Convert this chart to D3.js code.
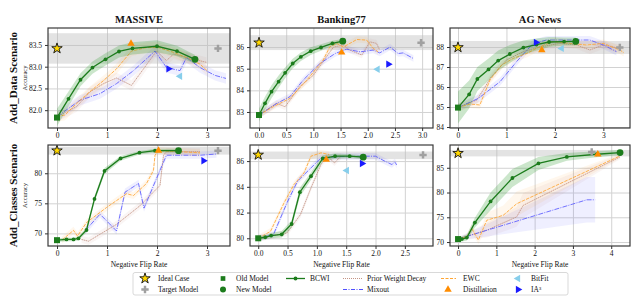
<!DOCTYPE html>
<html><head><meta charset="utf-8">
<script src="https://cdn.jsdelivr.net/npm/d3@7"></script>
<style>
body{margin:0;background:#fff}
svg{display:block}
text{font-family:"Liberation Serif","Times New Roman",serif;fill:#111}
</style>
</head><body><svg id="c" width="640" height="296"></svg>
<script>
// ---------------- DATA ----------------
const datasets = ["MASSIVE", "Banking77", "AG News"];
const scenarios = ["Add_Data Scenario", "Add_Classes Scenario"];
// panel order: MASSIVE-data, Banking-data, AG-data, MASSIVE-classes, Banking-classes, AG-classes

const bcwiMD = [[0,81.83],[0.23,82.26],[0.47,82.70],[0.71,82.98],[0.97,83.17],[1.24,83.35],[1.51,83.42],[2.0,83.47],[2.4,83.36],[2.76,83.17]];
const bandMD = [0.2,0.17,0.15,0.14,0.14,0.14,0.14,0.14,0.12,0.1];
const ewcMD = [[0,81.85],[0.16,81.89],[0.39,82.15],[0.65,82.42],[0.93,82.68],[1.19,82.95],[1.49,83.36],[1.79,83.44],[2.03,83.44],[2.33,83.33],[2.59,83.21],[2.86,83.06],[3.0,82.91]];
const pwdMD = [[0,81.85],[0.39,82.08],[0.66,82.42],[0.93,82.61],[1.19,82.74],[1.49,82.57],[1.99,83.36],[2.19,83.14],[2.33,83.29],[2.59,83.21],[2.99,83.10]];
const mixMD = [[0,81.85],[0.46,82.23],[0.86,82.38],[1.19,82.61],[1.53,82.91],[1.96,83.36],[2.19,82.98],[2.46,82.91],[2.59,83.21],[2.86,82.98],[3.16,82.80],[3.38,82.73]];

const bcwiBD = [[0,82.86],[0.11,83.4],[0.23,83.94],[0.36,84.4],[0.48,84.81],[0.62,85.24],[0.77,85.55],[0.95,85.81],[1.14,85.98],[1.35,86.17],[1.54,86.27]];
const bandBD = [0.3,0.3,0.3,0.28,0.25,0.22,0.2,0.18,0.15,0.12,0.1];
const ewcBD = [[0,82.86],[0.26,83.24],[0.57,83.63],[0.88,84.47],[1.18,85.4],[1.3,86.0],[1.43,86.17],[1.55,86.0],[1.8,86.35],[1.98,86.32],[2.1,85.94],[2.19,85.78]];
const pwdBD = [[0,82.86],[0.32,83.4],[0.48,83.24],[0.75,84.17],[1.0,84.7],[1.24,85.55],[1.37,86.0],[1.55,86.09],[1.67,85.86],[1.89,85.63],[2.04,86.24],[2.16,86.17],[2.22,85.86]];
const mixBD = [[0,82.86],[0.33,83.4],[0.57,83.71],[0.81,84.47],[1.12,85.24],[1.4,85.7],[1.61,85.9],[1.86,85.78],[2.1,85.86],[2.22,85.73],[2.41,86.0],[2.56,85.7],[2.65,85.73],[2.84,85.47]];

const bcwiAD = [[0,84.97],[0.23,85.63],[0.4,86.4],[0.63,86.88],[0.83,87.32],[1.07,87.65],[1.35,87.97],[1.62,88.12],[1.88,88.25],[2.19,88.27],[2.43,88.28]];
const bandAD = [0.8,0.7,0.6,0.55,0.5,0.45,0.35,0.3,0.25,0.2,0.2];
const ewcAD = [[0,84.97],[0.25,85.15],[0.45,85.1],[0.66,86.35],[0.9,87.1],[1.14,87.43],[1.42,87.68],[1.69,88.02],[1.96,88.27],[2.31,88.18],[2.65,88.1],[3.0,88.18],[3.34,87.85],[3.42,87.72]];
const pwdAD = [[0,84.97],[0.39,85.35],[0.69,86.52],[1.0,87.35],[1.35,87.77],[1.69,88.0],[2.1,88.18],[2.45,88.1],[2.72,87.85],[3.0,88.1],[3.34,87.93]];
const mixAD = [[0,84.97],[0.42,85.43],[0.87,86.27],[1.21,87.27],[1.55,88.18],[1.83,88.35],[2.24,88.35],[2.72,88.35],[3.0,88.1],[3.27,87.77]];

const bcwiMC = [[0,68.87],[0.19,68.99],[0.33,68.99],[0.43,69.16],[0.59,70.56],[0.75,75.73],[0.95,80.39],[1.27,82.47],[1.65,83.42],[1.96,83.76],[2.43,83.76]];
const bandMC = [0.3,0.3,0.3,0.3,0.4,0.5,0.5,0.4,0.3,0.3,0.3];
const ewcMC = [[0.1,68.9],[0.33,70.5],[0.41,69.55],[0.59,71.8],[0.99,74.3],[1.39,76.6],[1.53,76.3],[1.79,78.3],[1.93,80.5],[1.96,83.0],[2.03,83.76],[2.86,83.4]];
const pwdMC = [[0.49,68.99],[0.63,68.7],[1.19,71.5],[1.66,74.6],[2.06,77.98],[2.13,83.0],[2.19,83.6],[2.86,83.6]];
const mixMC = [[0.56,70.4],[0.86,73.2],[1.19,70.4],[1.36,76.85],[1.63,78.3],[1.74,74.2],[2.06,80.5],[2.19,83.0],[2.46,83.0],[2.86,83.0],[3.19,83.2]];

const bcwiBC = [[0,80.0],[0.12,80.08],[0.22,80.21],[0.4,80.31],[0.57,81.11],[0.71,83.58],[0.9,84.83],[1.1,86.2],[1.31,86.38],[1.56,86.38],[1.79,86.3]];
const bandBC = [0.15,0.15,0.2,0.25,0.3,0.35,0.3,0.25,0.2,0.15,0.15];
const ewcBC = [[0,80.0],[0.21,80.54],[0.44,82.75],[0.61,84.18],[0.78,85.08],[0.9,86.38],[1.07,86.64],[1.21,86.51]];
const pwdBC = [[0,80.0],[0.49,80.41],[0.72,81.84],[0.9,83.92],[1.07,85.73],[1.18,86.38],[1.3,85.86],[1.41,86.38]];
const mixBC = [[0,80.0],[0.26,80.29],[0.49,82.75],[0.67,84.44],[0.9,85.47],[1.07,86.25],[1.4,86.35],[1.77,86.38],[2.0,86.38],[2.16,85.99],[2.28,85.73],[2.33,85.94],[2.36,85.7]];

const bcwiAC = [[0,70.6],[0.1,70.6],[0.23,70.9],[0.44,73.93],[0.85,78.2],[1.42,82.93],[2.1,85.87],[2.84,87.2],[3.62,87.73],[4.23,88.07]];
const bandAC = [0.5,0.5,0.6,1.0,1.8,1.8,1.3,0.8,0.6,0.5];
const ewcAC = [[0,70.6],[0.23,71.07],[0.36,72.73],[0.53,70.4],[0.75,74.4],[1.18,75.4],[1.53,77.73],[4.23,87.4]];
const ewcBandAC = [0.3,0.5,0.8,0.8,1.5,2.0,2.5,0.5];
const pwdAC = [[0,70.6],[0.75,72.4],[1.53,75.07],[1.7,77.4],[4.23,87.2]];
const pwdBandAC = [0.3,1.5,2.0,2.5,0.5];
const mixAC = [[0,70.6],[3.36,78.53],[3.58,78.53]];
const mixBandAC = [0.3,4.6,4.6];

// per-panel markers (same panel order)
const idealPts   = [[0,83.42],[0,86.2],[0,87.98],[0,83.76],[0,86.48],[0,87.94]];
const targetPts  = [[3.22,83.42],[2.98,86.2],[3.34,87.98],[3.22,83.76],[2.81,86.48],[3.49,88.2]];
const targetBand = [[83.07,83.77],[85.86,86.55],[87.65,88.3],[83.1,84.4],[86.15,86.74],[87.3,88.6]];
const distillPts = [[1.48,83.53],[1.52,85.75],[1.73,87.85],[2.03,83.76],[1.16,86.12],[3.65,87.73]];
const bitfitPts  = [[2.46,82.78],[2.18,84.97],[2.14,87.93],null,[1.51,85.27],null];
const ia3Pts     = [[2.23,82.95],[2.38,85.21],[1.61,88.23],[2.93,82.07],[1.77,85.81],null];
const baseSpread = [0.12,0.15,0.2,0.6,0.25,0.5];

const xTicks = [[0,1,2,3],[0,0.5,1,1.5,2,2.5,3],[0,1,2,3],[0,1,2,3],[0,0.5,1,1.5,2,2.5],[0,1,2,3,4]];
const yTicks = [[82,82.5,83,83.5],[83,84,85,86],[84,85,86,87,88],[70,75,80],[80,82,84,86],[70,75,80,85]];
const xFmt = ["d",".1f","d","d",".1f","d"];
const yFmt = [".1f","d","d","d","d","d"];
const xDom = [[-0.18,3.46],[-0.166,3.2],[-0.165,3.55],[-0.18,3.46],[-0.14,2.98],[-0.21,4.49]];
const yDom = [[81.59,83.89],[82.26,86.88],[83.95,88.95],[67.9,84.7],[79.4,87.25],[69.2,89.6]];

const bcwiAll = [bcwiMD,bcwiBD,bcwiAD,bcwiMC,bcwiBC,bcwiAC];
const bandAll = [bandMD,bandBD,bandAD,bandMC,bandBC,bandAC];
const ewcAll = [ewcMD,ewcBD,ewcAD,ewcMC,ewcBC,ewcAC];
const pwdAll = [pwdMD,pwdBD,pwdAD,pwdMC,pwdBC,pwdAC];
const mixAll = [mixMD,mixBD,mixAD,mixMC,mixBC,mixAC];

// ---------------- DRAW ----------------
const C = {bcwi:"#1c7c1c", ewc:"#ffa533", pwd:"#c49484", mix:"#5050ff", distill:"#ff8c00",
           bitfit:"#87ceeb", ia3:"#1a1aff", target:"#a0a0a0", frame:"#3a3a3a", grid:"#d2d2d2"};
const svg = d3.select("#c");
const cols = [[48,230],[250,433],[450,630]];
const rows = [[28,128],[145,246]];

function sym(g, type, x, y, size, fill, stroke, sw, rot) {
  g.append("path").attr("d", d3.symbol().type(type).size(size)())
    .attr("transform", `translate(${x},${y}) rotate(${rot||0})`)
    .attr("fill", fill).attr("stroke", stroke || "none").attr("stroke-width", sw || 0);
}

for (let i = 0; i < 6; i++) {
  const r = Math.floor(i/3), c = i % 3;
  const [x0,x1] = cols[c], [y0,y1] = rows[r];
  const x = d3.scaleLinear().domain(xDom[i]).range([x0,x1]);
  const y = d3.scaleLinear().domain(yDom[i]).range([y1,y0]);
  const g = svg.append("g");
  const cid = "clip" + i;
  svg.append("clipPath").attr("id", cid).append("rect")
    .attr("x", x0).attr("y", y0).attr("width", x1-x0).attr("height", y1-y0);

  // grid
  g.append("g").attr("transform", `translate(0,${y1})`)
    .call(d3.axisBottom(x).tickValues(xTicks[i]).tickSize(-(y1-y0)).tickFormat(""))
    .call(s => { s.select(".domain").remove(); s.selectAll("line").attr("stroke", C.grid).attr("stroke-width", 1); });
  g.append("g").attr("transform", `translate(${x0},0)`)
    .call(d3.axisLeft(y).tickValues(yTicks[i]).tickSize(-(x1-x0)).tickFormat(""))
    .call(s => { s.select(".domain").remove(); s.selectAll("line").attr("stroke", C.grid).attr("stroke-width", 1); });

  const p = g.append("g").attr("clip-path", `url(#${cid})`);
  // target band
  p.append("rect").attr("x", x0).attr("width", x1-x0)
    .attr("y", y(targetBand[i][1])).attr("height", y(targetBand[i][0]) - y(targetBand[i][1]))
    .attr("fill", "#bdbdbd").attr("opacity", 0.42);

  const line = d3.line().x(d => x(d[0])).y(d => y(d[1]));
  const area = (data, bw) => d3.area().x(d => x(d[0]))
      .y0((d,k) => y(d[1] - bw[k])).y1((d,k) => y(d[1] + bw[k]))(data);
  const spread = (data, arr) => arr || data.map(() => baseSpread[i]);

  // baseline bands
  const baseSeries = [
    [pwdAll[i], C.pwd, "1.5,0.6", 0.85, i===5 ? pwdBandAC : null],
    [mixAll[i], C.mix, "5,1.2,1,1.2", 0.8, i===5 ? mixBandAC : null],
    [ewcAll[i], C.ewc, "3.5,1.2", 0.85, i===5 ? ewcBandAC : null]
  ];
  baseSeries.forEach(([d, col, dash, w, bw]) => {
    p.append("path").attr("d", area(d, spread(d, bw))).attr("fill", col).attr("opacity", 0.09);
  });
  baseSeries.forEach(([d, col, dash, w]) => {
    p.append("path").attr("d", line(d)).attr("fill", "none").attr("stroke", col)
      .attr("stroke-width", w).attr("stroke-dasharray", dash);
  });

  // BCWI
  const bd = bcwiAll[i];
  p.append("path").attr("d", area(bd, bandAll[i])).attr("fill", "#2e9a2e").attr("opacity", 0.25);
  p.append("path").attr("d", line(bd)).attr("fill", "none").attr("stroke", C.bcwi).attr("stroke-width", 1.3);
  bd.slice(1, -1).forEach(d => p.append("circle").attr("cx", x(d[0])).attr("cy", y(d[1])).attr("r", 1.9).attr("fill", C.bcwi));

  // markers
  const m = g.append("g");
  const o = bd[0], n = bd[bd.length-1];
  sym(m, d3.symbolSquare, x(o[0]), y(o[1]), 36, C.bcwi);
  m.append("circle").attr("cx", x(n[0])).attr("cy", y(n[1])).attr("r", 3.4).attr("fill", C.bcwi);
  if (distillPts[i]) sym(m, d3.symbolTriangle, x(distillPts[i][0]), y(distillPts[i][1]), 24, C.distill);
  if (bitfitPts[i]) sym(m, d3.symbolTriangle, x(bitfitPts[i][0]), y(bitfitPts[i][1]), 24, C.bitfit, null, 0, -90);
  if (ia3Pts[i]) sym(m, d3.symbolTriangle, x(ia3Pts[i][0]), y(ia3Pts[i][1]), 24, C.ia3, null, 0, 90);
  sym(m, d3.symbolCross, x(targetPts[i][0]), y(targetPts[i][1]), 30, C.target);
  sym(m, d3.symbolStar, x(idealPts[i][0]), y(idealPts[i][1]), 34, "#ffd700", "#111", 0.9);

  // frame
  g.append("rect").attr("x", x0).attr("y", y0).attr("width", x1-x0).attr("height", y1-y0)
    .attr("fill", "none").attr("stroke", C.frame).attr("stroke-width", 1.2);

  // axes
  g.append("g").attr("transform", `translate(0,${y1})`)
    .call(d3.axisBottom(x).tickValues(xTicks[i]).tickSize(3).tickPadding(2).tickFormat(d3.format(xFmt[i])))
    .call(s => { s.select(".domain").remove(); s.selectAll("line").attr("stroke", "#333");
                 s.selectAll("text").attr("font-size", 7.5).attr("font-family", "Liberation Serif").attr("fill", "#111"); });
  g.append("g").attr("transform", `translate(${x0},0)`)
    .call(d3.axisLeft(y).tickValues(yTicks[i]).tickSize(3).tickPadding(3).tickFormat(d3.format(yFmt[i])))
    .call(s => { s.select(".domain").remove(); s.selectAll("line").attr("stroke", "#333");
                 s.selectAll("text").attr("font-size", 7.5).attr("font-family", "Liberation Serif").attr("fill", "#111"); });

  if (r === 0) {
    svg.append("text").attr("x", (x0+x1)/2).attr("y", 23).attr("text-anchor", "middle")
      .attr("font-size", 10.5).attr("font-weight", "bold").text(datasets[c]);
  }
  if (r === 1) {
    svg.append("text").attr("x", (x0+x1)/2).attr("y", 267).attr("text-anchor", "middle")
      .attr("font-size", 7.5).text("Negative Flip Rate");
  }
  if (c === 0) {
    const cy = (y0+y1)/2;
    svg.append("text").attr("transform", `translate(27,${cy}) rotate(-90)`).attr("text-anchor", "middle")
      .attr("font-size", 6.5).text("Accuracy");
    svg.append("text").attr("transform", `translate(17,${cy}) rotate(-90)`).attr("text-anchor", "middle")
      .attr("font-size", 11).attr("font-weight", "bold").text(scenarios[r]);
  }
}

// ---------------- LEGEND ----------------
const lg = svg.append("g");
lg.append("rect").attr("x", 133).attr("y", 272.5).attr("width", 435).attr("height", 22.5).attr("rx", 2)
  .attr("fill", "#fff").attr("stroke", "#cfcfcf").attr("stroke-width", 0.8);
const ly = [278.5, 289.5];
const lt = (xx, yy, s) => lg.append("text").attr("x", xx).attr("y", yy).attr("dy", "0.35em").attr("font-size", 7.5).text(s);
sym(lg, d3.symbolStar, 145, ly[0], 34, "#ffd700", "#111", 0.9); lt(158, ly[0], "Ideal Case");
sym(lg, d3.symbolCross, 145, ly[1], 30, C.target); lt(158, ly[1], "Target Model");
sym(lg, d3.symbolSquare, 223, ly[0], 22, C.bcwi); lt(236, ly[0], "Old Model");
lg.append("circle").attr("cx", 223).attr("cy", ly[1]).attr("r", 3).attr("fill", C.bcwi); lt(236, ly[1], "New Model");
lg.append("line").attr("x1", 286).attr("x2", 305).attr("y1", ly[0]).attr("y2", ly[0]).attr("stroke", C.bcwi).attr("stroke-width", 1.3);
lg.append("circle").attr("cx", 295.5).attr("cy", ly[0]).attr("r", 1.9).attr("fill", C.bcwi); lt(310, ly[0], "BCWI");
lg.append("line").attr("x1", 343).attr("x2", 363).attr("y1", ly[0]).attr("y2", ly[0]).attr("stroke", C.pwd).attr("stroke-width", 1).attr("stroke-dasharray", "1,1"); lt(367, ly[0], "Prior Weight Decay");
lg.append("line").attr("x1", 343).attr("x2", 363).attr("y1", ly[1]).attr("y2", ly[1]).attr("stroke", C.mix).attr("stroke-width", 1).attr("stroke-dasharray", "4,1.5,1,1.5"); lt(367, ly[1], "Mixout");
lg.append("line").attr("x1", 441).attr("x2", 456).attr("y1", ly[0]).attr("y2", ly[0]).attr("stroke", C.ewc).attr("stroke-width", 1.1).attr("stroke-dasharray", "3,1.5"); lt(463, ly[0], "EWC");
sym(lg, d3.symbolTriangle, 448, ly[1], 24, C.distill); lt(463, ly[1], "Distillation");
sym(lg, d3.symbolTriangle, 518, ly[0], 24, C.bitfit, null, 0, -90); lt(531, ly[0], "BitFit");
sym(lg, d3.symbolTriangle, 518, ly[1], 24, C.ia3, null, 0, 90); lt(531, ly[1], "IA³");
</script>
</body></html>
